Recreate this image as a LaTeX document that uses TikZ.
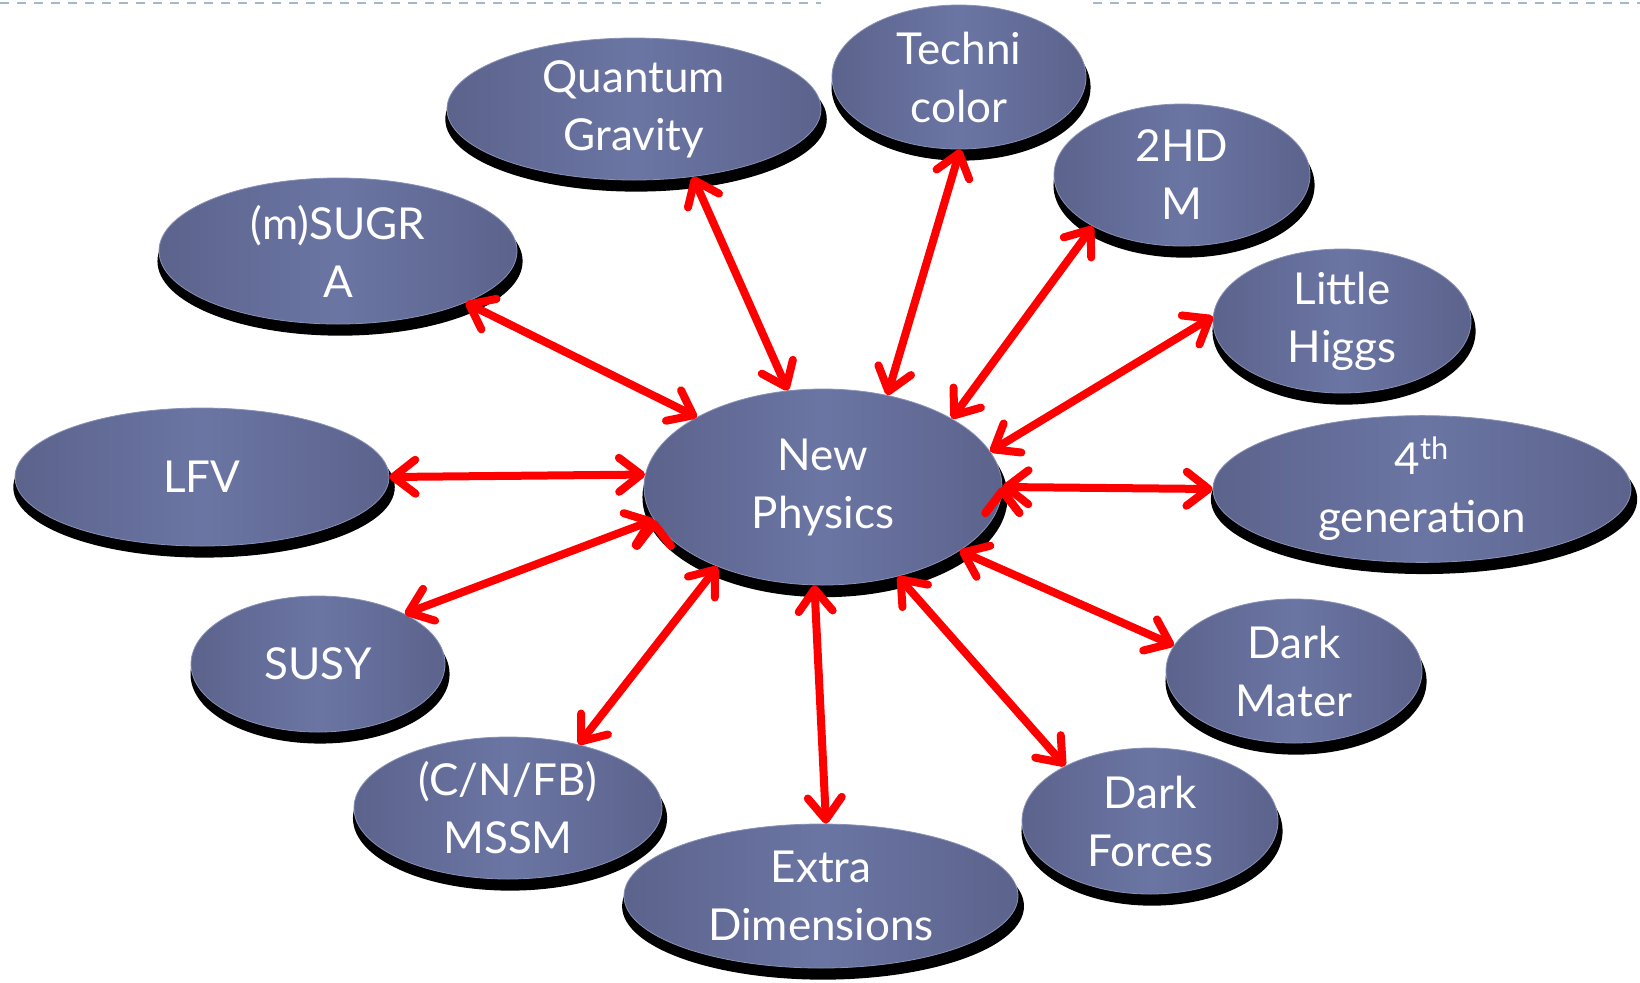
\documentclass[tikz,border=0pt]{standalone}
\usepackage{fontspec}
\setmainfont{Lato}
\usetikzlibrary{shapes.geometric,shadows,arrows.meta}
\definecolor{colB}{rgb}{.42,.46,.64}
\definecolor{colBd}{rgb}{.36,.39,.55}
\definecolor{colR}{rgb}{1,0,0}
\definecolor{colD}{rgb}{.64,.72,.80}
\tikzstyle{bubble}=[ellipse, inner sep=0pt, left color=colBd, right color=colBd, middle color=colB, draw=colB!80!white, line width=0.4pt, text=white, align=center, font=\fontsize{22}{29}\selectfont, drop shadow={shadow xshift=1pt, shadow yshift=-5pt, shadow scale=1.02, fill=black, opacity=1}]
\tikzstyle{edge}=[line width=4pt, colR, arrows={Straight Barb[length=11pt,width=17pt,round]-Straight Barb[length=11pt,width=17pt,round]}]
\tikzstyle{rule}=[line width=1pt, colD, dash pattern=on 4.5pt off 4pt]

\begin{document}
\begin{tikzpicture}[x=0.5pt,y=-0.5pt]
			\useasboundingbox (0,0) rectangle (1640,982);
			\draw[rule] (0,3) -- (821,3);
			\draw[rule] (1093,3) -- (1640,3);
			\node[bubble, minimum width=179pt, minimum height=98pt] (np) at (823,487) {New\\Physics};
			\node[bubble, minimum width=187pt, minimum height=71pt] (qg) at (634,109) {Quantum\\Gravity};
			\node[bubble, minimum width=127pt, minimum height=72pt] (tc) at (959,77) {Techni\\color};
			\node[bubble, minimum width=128pt, minimum height=71pt] (thdm) at (1182,175) {2HD\\M};
			\node[bubble, minimum width=129pt, minimum height=72pt] (lh) at (1342,321) {Little\\Higgs};
			\node[bubble, minimum width=209pt, minimum height=73pt] (gen) at (1422,489) {4\textsuperscript{th}\\generation};
			\node[bubble, minimum width=128pt, minimum height=72pt] (dm) at (1294,671) {Dark\\Mater};
			\node[bubble, minimum width=128pt, minimum height=73pt] (df) at (1150,821) {Dark\\Forces};
			\node[bubble, minimum width=197pt, minimum height=72pt] (ed) at (821,896) {Extra\\Dimensions};
			\node[bubble, minimum width=154pt, minimum height=71pt] (mssm) at (508,808) {(C/N/FB)\\MSSM};
			\node[bubble, minimum width=127pt, minimum height=68pt] (susy) at (318,664) {SUSY};
			\node[bubble, minimum width=187pt, minimum height=69pt] (lfv) at (202,477) {LFV};
			\node[bubble, minimum width=179pt, minimum height=73pt] (sugra) at (338,251) {(m)SUGR\\A};
			\draw[edge] (np.176)edge(lfv.0) (np.151)edge(sugra.-22) (np.110)edge(qg.-49) (np.55)edge(tc.-89) (np.28)edge(thdm.-150) (np.12)edge(lh.178) (np.0)edge(gen.180) ;
			\draw[edge] (np.-25)edge(dm.168) (np.-50)edge(df.147) (np.-95)edge(ed.86) (np.-143)edge(mssm.42) (np.-169)edge(susy.30) ;
		\end{tikzpicture}
\end{document}
